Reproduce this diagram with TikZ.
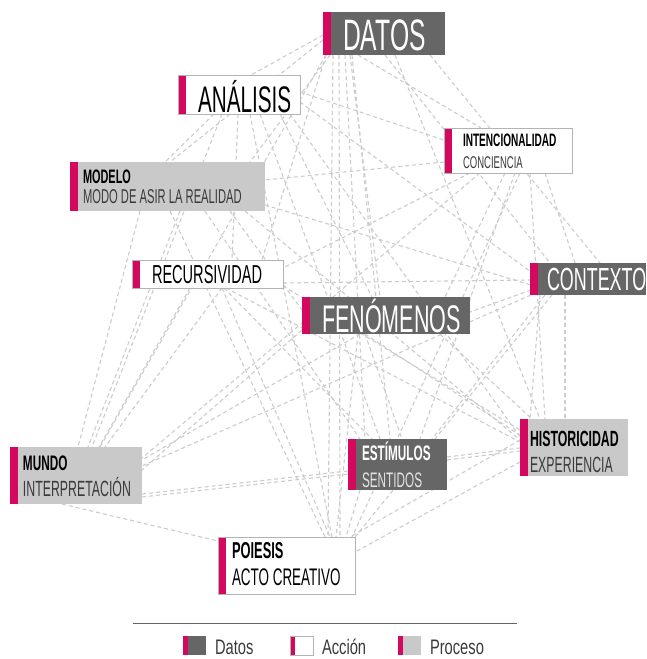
\documentclass[tikz,border=0pt]{standalone}
\usepackage{fontspec}
\setmainfont{Liberation Sans}[FakeStretch=0.56]
\newfontfamily\legendfont{Liberation Sans}[FakeStretch=0.7]
\definecolor{accent}{HTML}{D3085E}
\definecolor{darkbox}{HTML}{666666}
\definecolor{lightbox}{HTML}{C9C9C9}
\definecolor{rim}{HTML}{B3B3B3}
\definecolor{webline}{HTML}{CCCCCC}
\definecolor{subdark}{HTML}{3A3A3A}
\definecolor{sublight}{HTML}{E4E4E4}
\pgfdeclarelayer{paper}
\pgfdeclarelayer{weblayer}
\pgfsetlayers{paper,weblayer,main}
\tikzset{
  web/.style={draw=webline, line width=1.1pt, dash pattern=on 4pt off 3pt},
  tag/.style={rectangle, anchor=north west, inner sep=0pt, outer sep=0pt,
    path picture={\fill[accent] (path picture bounding box.north west)
      rectangle ([xshift=8pt]path picture bounding box.south west);}},
  datosbox/.style={tag, fill=darkbox},
  accionbox/.style={tag, fill=white, draw=rim, line width=0.8pt},
  procesobox/.style={tag, fill=lightbox},
  label/.style={anchor=base west, inner sep=0pt, outer sep=0pt},
  swatch/.style={rectangle, anchor=north west, inner sep=0pt, outer sep=0pt,
    minimum width=23, minimum height=19,
    path picture={\fill[accent] (path picture bounding box.north west)
      rectangle ([xshift=5pt]path picture bounding box.south west);}},
}
\newcommand{\nw}[3]{([shift={(#2,#3)}]#1.north west)}
\begin{document}
\begin{tikzpicture}[x=1pt, y=-1pt]
\begin{pgfonlayer}{paper}
\fill[white] (0,0) rectangle (646,659);
\end{pgfonlayer}
\useasboundingbox (0,0) rectangle (646,659);

% ---- boxes ----
\node[datosbox,   minimum width=122, minimum height=43] (datos)    at (323,12)  {};
\node[accionbox,  minimum width=122, minimum height=39] (analisis) at (178,75)  {};
\node[accionbox,  minimum width=128, minimum height=45] (intenc)   at (444,128) {};
\node[procesobox, minimum width=195, minimum height=49] (modelo)   at (70,162)  {};
\node[accionbox,  minimum width=151, minimum height=28] (recurs)   at (132,260) {};
\node[datosbox,   minimum width=116, minimum height=32] (contexto) at (530,263) {};
\node[datosbox,   minimum width=168, minimum height=37] (fenom)    at (302,297) {};
\node[procesobox, minimum width=132, minimum height=57] (mundo)    at (10,447)  {};
\node[datosbox,   minimum width=99,  minimum height=51] (estim)    at (348,439) {};
\node[procesobox, minimum width=108, minimum height=57] (histor)   at (520,419) {};
\node[accionbox,  minimum width=137, minimum height=57] (poiesis)  at (218,537) {};

% ---- labels ----
\node[label, text=white, font=\fontsize{44}{44}\selectfont] (datos-t) at (343,50) {DATOS};
\node[label, font=\fontsize{37}{37}\selectfont] (analisis-t) at (198,112) {ANÁLISIS};
\node[label, font=\bfseries\fontsize{18}{18}\selectfont] (intenc-t) at (463,146) {INTENCIONALIDAD};
\node[label, text=subdark, font=\fontsize{17}{17}\selectfont] (intenc-s) at (463,168) {CONCIENCIA};
\node[label, font=\bfseries\fontsize{19.5}{19.5}\selectfont] (modelo-t) at (83,183) {MODELO};
\node[label, text=subdark, font=\fontsize{20}{20}\selectfont] (modelo-s) at (83,203) {MODO DE ASIR LA REALIDAD};
\node[label, font=\fontsize{26}{26}\selectfont] (recurs-t) at (152,283) {RECURSIVIDAD};
\node[label, text=white, font=\fontsize{32}{32}\selectfont] (contexto-t) at (547,290) {CONTEXTO};
\node[label, text=white, font=\fontsize{38.5}{38.5}\selectfont] (fenom-t) at (322,332) {FENÓMENOS};
\node[label, font=\bfseries\fontsize{21}{21}\selectfont] (mundo-t) at (23,470) {MUNDO};
\node[label, text=subdark, font=\fontsize{22}{22}\selectfont] (mundo-s) at (23,496) {INTERPRETACIÓN};
\node[label, text=white, font=\bfseries\fontsize{21}{21}\selectfont] (estim-t) at (362,460) {ESTÍMULOS};
\node[label, text=sublight, font=\fontsize{21}{21}\selectfont] (estim-s) at (362,487) {SENTIDOS};
\node[label, font=\bfseries\fontsize{22}{22}\selectfont] (histor-t) at (530,446) {HISTORICIDAD};
\node[label, text=subdark, font=\fontsize{22}{22}\selectfont] (histor-s) at (530,472) {EXPERIENCIA};
\node[label, font=\bfseries\fontsize{23}{23}\selectfont] (poiesis-t) at (232,558) {POIESIS};
\node[label, font=\fontsize{24}{24}\selectfont] (poiesis-s) at (232,585) {ACTO CREATIVO};

% ---- web of dashed relations, behind the boxes ----
\begin{pgfonlayer}{weblayer}
% from DATOS
\draw[web] \nw{datos}{0}{23}   -- \nw{analisis}{73}{0};
\draw[web] \nw{datos}{0}{28}   -- \nw{modelo}{100}{0};
\draw[web] \nw{datos}{3}{43}   -- \nw{mundo}{90}{0};
\draw[web] \nw{datos}{10}{43}  -- \nw{poiesis}{110}{0};
\draw[web] \nw{datos}{16}{43}  -- \nw{poiesis}{122}{0};
\draw[web] \nw{datos}{22}{43}  -- \nw{estim}{17}{0};
\draw[web] \nw{datos}{29}{43}  -- \nw{estim}{42}{0};
\draw[web] \nw{datos}{27}{43}  -- \nw{fenom}{78}{0};
\draw[web] \nw{datos}{35}{43}  -- \nw{intenc}{37}{0};
\draw[web] \nw{datos}{62}{43}  -- \nw{contexto}{20}{0};
\draw[web] \nw{datos}{72}{43}  -- \nw{histor}{20}{0};
\draw[web] \nw{datos}{107}{43} -- \nw{contexto}{70}{0};
\draw[web] \nw{datos}{3}{43}   -- \nw{recurs}{130}{0};
\draw[web] \nw{datos}{7}{43}   -- \nw{modelo}{180}{0};
% from ANÁLISIS
\draw[web] \nw{analisis}{122}{17} -- \nw{intenc}{0}{12};
\draw[web] \nw{analisis}{122}{27} -- \nw{contexto}{1}{9};
\draw[web] \nw{analisis}{36}{39}  -- \nw{modelo}{95}{0};
\draw[web] \nw{analisis}{44}{39}  -- \nw{mundo}{82}{0};
\draw[web] \nw{analisis}{60}{39}  -- \nw{recurs}{100}{0};
\draw[web] \nw{analisis}{72}{39}  -- \nw{poiesis}{114}{0};
\draw[web] \nw{analisis}{82}{39}  -- \nw{estim}{32}{0};
\draw[web] \nw{analisis}{112}{39} -- \nw{histor}{0}{18};
\draw[web] \nw{analisis}{102}{39} -- \nw{fenom}{70}{0};
% from INTENCIONALIDAD
\draw[web] \nw{intenc}{0}{34}   -- \nw{modelo}{195}{18};
\draw[web] \nw{intenc}{26}{45}  -- \nw{recurs}{151}{8};
\draw[web] \nw{intenc}{36}{45}  -- \nw{mundo}{132}{11};
\draw[web] \nw{intenc}{61}{45}  -- \nw{fenom}{143}{0};
\draw[web] \nw{intenc}{71}{45}  -- \nw{estim}{72}{0};
\draw[web] \nw{intenc}{76}{45}  -- \nw{poiesis}{134}{0};
\draw[web] \nw{intenc}{86}{45}  -- \nw{histor}{25}{0};
\draw[web] \nw{intenc}{101}{45} -- \nw{contexto}{45}{0};
% from MODELO
\draw[web] \nw{modelo}{70}{49}  -- \nw{mundo}{68}{0};
\draw[web] \nw{modelo}{110}{49} -- \nw{mundo}{78}{0};
\draw[web] \nw{modelo}{100}{49} -- \nw{poiesis}{107}{0};
\draw[web] \nw{modelo}{135}{49} -- \nw{estim}{12}{0};
\draw[web] \nw{modelo}{175}{49} -- \nw{histor}{0}{21};
\draw[web] \nw{modelo}{195}{43} -- \nw{contexto}{1}{22};
\draw[web] \nw{modelo}{160}{49} -- \nw{fenom}{0}{13};
% from RECURSIVIDAD
\draw[web] \nw{recurs}{151}{23} -- \nw{contexto}{1}{17};
\draw[web] \nw{recurs}{151}{26} -- \nw{histor}{0}{11};
\draw[web] \nw{recurs}{58}{28}  -- \nw{mundo}{89}{0};
\draw[web] \nw{recurs}{90}{28}  -- \nw{mundo}{95}{0};
\draw[web] \nw{recurs}{90}{28}  -- \nw{poiesis}{112}{0};
\draw[web] \nw{recurs}{92}{28}  -- \nw{estim}{24}{0};
\draw[web] \nw{recurs}{94}{28}  -- \nw{histor}{0}{23};
% from CONTEXTO
\draw[web] \nw{contexto}{1}{27}  -- \nw{fenom}{168}{15};
\draw[web] \nw{contexto}{1}{32}  -- \nw{mundo}{132}{19};
\draw[web] \nw{contexto}{15}{32} -- \nw{estim}{84}{0};
\draw[web] \nw{contexto}{22}{32} -- \nw{poiesis}{137}{0};
\draw[web] \nw{contexto}{35}{32} -- \nw{histor}{45}{0};
\draw[web] \nw{contexto}{10}{32} -- \nw{histor}{10}{0};
% from FENÓMENOS
\draw[web] \nw{fenom}{56}{37}  -- \nw{poiesis}{118}{0};
\draw[web] \nw{fenom}{63}{37}  -- \nw{estim}{54}{0};
\draw[web] \nw{fenom}{63}{37}  -- \nw{histor}{0}{16};
\draw[web] \nw{fenom}{0}{33}   -- \nw{mundo}{132}{23};
\draw[web] \nw{fenom}{138}{37} -- \nw{histor}{12}{0};
\draw[web] \nw{fenom}{58}{37}  -- \nw{mundo}{132}{13};
% lower nodes
\draw[web] \nw{mundo}{132}{47} -- \nw{estim}{0}{32};
\draw[web] \nw{mundo}{132}{50} -- \nw{estim}{0}{35};
\draw[web] \nw{mundo}{52}{57}  -- \nw{poiesis}{0}{4};
\draw[web] \nw{estim}{99}{18}  -- \nw{histor}{0}{29};
\draw[web] \nw{estim}{99}{21}  -- \nw{histor}{0}{32};
\draw[web] \nw{estim}{12}{51}  -- \nw{poiesis}{128}{0};
\draw[web] \nw{histor}{0}{43}  -- \nw{poiesis}{137}{15};
\draw[web] \nw{histor}{0}{21}  -- \nw{poiesis}{132}{0};
\end{pgfonlayer}

% ---- legend ----
\coordinate (rule-a) at (133,623);
\coordinate (rule-b) at (517,623);
\draw[draw=darkbox, line width=0.9pt] (rule-a) -- (rule-b);
\node[swatch, fill=darkbox] (key-datos) at (183,636) {};
\node[swatch, fill=white, draw=rim, line width=0.8pt] (key-accion) at (290,636) {};
\node[swatch, fill=lightbox] (key-proceso) at (398,636) {};
\node[label, text=subdark, font=\legendfont\fontsize{21}{21}\selectfont] (key-datos-t) at (215,654) {Datos};
\node[label, text=subdark, font=\legendfont\fontsize{21}{21}\selectfont] (key-accion-t) at (322,654) {Acción};
\node[label, text=subdark, font=\legendfont\fontsize{21}{21}\selectfont] (key-proceso-t) at (430,654) {Proceso};
\end{tikzpicture}
\end{document}
